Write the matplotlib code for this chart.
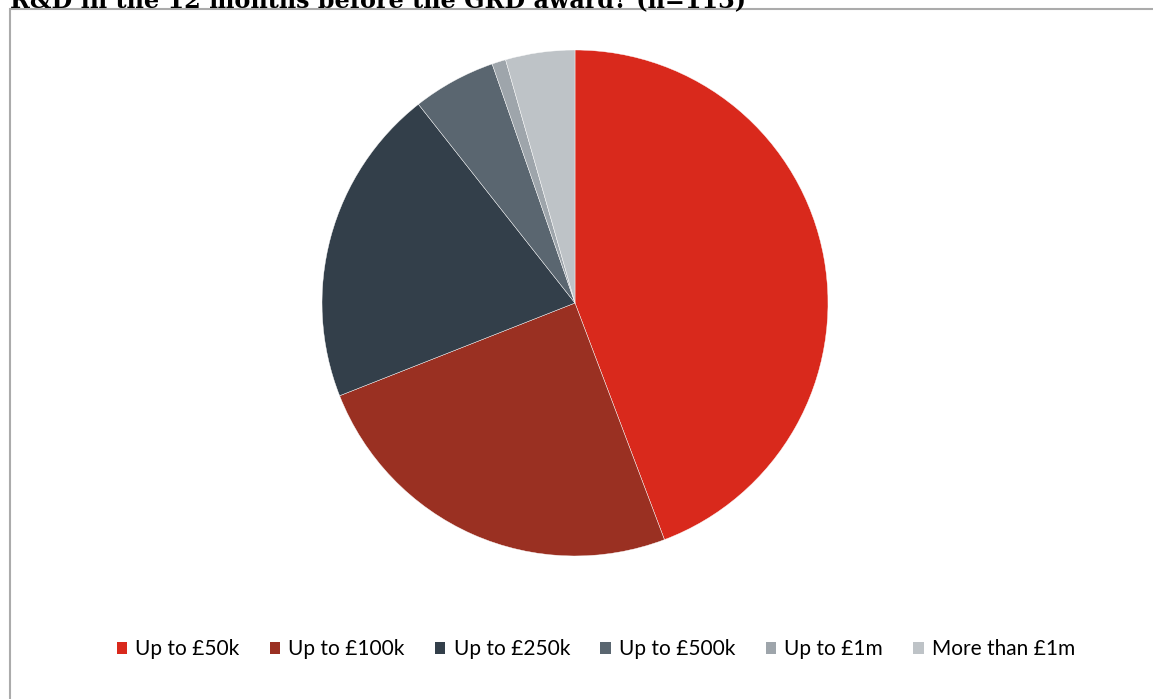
import matplotlib
matplotlib.use("Agg")
import matplotlib.pyplot as plt
from matplotlib.patches import Rectangle

# R&D spend in the 12 months before the award, number of firms (n=113)
categories = ["Up to £50k", "Up to £100k", "Up to £250k", "Up to £500k", "Up to £1m", "More than £1m"]
counts = [50, 28, 23, 6, 1, 5]
colors = ["#D9291C", "#9A3022", "#333F4A", "#5A6670", "#9EA5AB", "#BEC3C7"]

W, H = 1153, 699
fig = plt.figure(figsize=(W / 100, H / 100), dpi=100)

# grey frame round the chart area, running off the right and bottom
fig.patches.append(Rectangle((9.5 / W, -0.1), 2, 1 - 9.5 / H + 0.1,
                             transform=fig.transFigure, fill=False,
                             edgecolor="#ABABAB", lw=1.5))

# title line, mostly above the top edge
fig.text(10 / W, 1 - 7 / H, "R&D in the 12 months before the GRD award? (n=113)",
         fontsize=17.2, fontweight="bold", family="DejaVu Serif",
         ha="left", va="baseline")

cx, cy, r = 575, 303, 253
ax = fig.add_axes([(cx - r) / W, (H - cy - r) / H, 2 * r / W, 2 * r / H])
ax.pie(counts, colors=colors, startangle=90, counterclock=False,
       radius=1, wedgeprops=dict(edgecolor="white", linewidth=0.3))
ax.set_xlim(-1, 1)
ax.set_ylim(-1, 1)
ax.set_aspect("equal")
ax.axis("off")

handles = [Rectangle((0, 0), 1, 1, facecolor=c) for c in colors]
fig.legend(handles, categories, ncol=6, loc="center",
           bbox_to_anchor=(596 / W, 1 - 649 / H), frameon=False,
           prop=dict(family="Lato", size=15),
           handlelength=0.5, handleheight=0.5, handletextpad=0.4,
           columnspacing=1.45)

fig.savefig("out.png", dpi=100)
